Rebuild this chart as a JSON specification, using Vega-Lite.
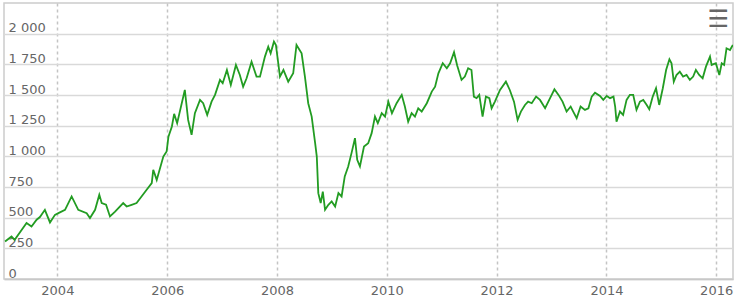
{
  "$schema": "https://vega.github.io/schema/vega-lite/v6.json",
  "width": 729,
  "height": 276,
  "autosize": {"type": "none"},
  "padding": {"left": 4, "top": 3, "right": 15, "bottom": 21},
  "background": "white",
  "title": {"text": "☰", "anchor": "end", "frame": "group", "orient": "top", "offset": -29, "dx": -4, "fontSize": 24, "font": "DejaVu Sans", "fontWeight": "normal", "color": "#666666"},
  "config": {
    "view": {"stroke": "#cccccc", "strokeWidth": 1.5},
    "axis": {"labelFont": "DejaVu Sans", "labelFontSize": 13, "labelColor": "#666666", "titleFontSize": 0}
  },
  "data": {"values": [
    {"date": "2003-01-18", "value": 306}, {"date": "2003-03-02", "value": 347}, {"date": "2003-03-23", "value": 320},
    {"date": "2003-06-10", "value": 456}, {"date": "2003-07-13", "value": 428}, {"date": "2003-08-16", "value": 483},
    {"date": "2003-09-07", "value": 505}, {"date": "2003-10-10", "value": 564}, {"date": "2003-11-13", "value": 461},
    {"date": "2003-12-16", "value": 523}, {"date": "2004-01-08", "value": 537}, {"date": "2004-02-21", "value": 564},
    {"date": "2004-04-05", "value": 673}, {"date": "2004-05-19", "value": 564}, {"date": "2004-07-14", "value": 537},
    {"date": "2004-08-05", "value": 497}, {"date": "2004-09-08", "value": 564}, {"date": "2004-10-06", "value": 686},
    {"date": "2004-10-22", "value": 619}, {"date": "2004-11-20", "value": 605}, {"date": "2004-12-16", "value": 510},
    {"date": "2005-01-19", "value": 550}, {"date": "2005-02-10", "value": 578}, {"date": "2005-03-14", "value": 619},
    {"date": "2005-04-06", "value": 591}, {"date": "2005-05-09", "value": 605}, {"date": "2005-06-11", "value": 619},
    {"date": "2005-07-14", "value": 673}, {"date": "2005-08-17", "value": 727}, {"date": "2005-09-20", "value": 782},
    {"date": "2005-09-30", "value": 890}, {"date": "2005-10-23", "value": 808}, {"date": "2005-12-06", "value": 998},
    {"date": "2005-12-28", "value": 1039}, {"date": "2006-01-09", "value": 1161}, {"date": "2006-02-01", "value": 1243},
    {"date": "2006-02-16", "value": 1346}, {"date": "2006-03-08", "value": 1270}, {"date": "2006-04-28", "value": 1541},
    {"date": "2006-05-20", "value": 1297}, {"date": "2006-06-12", "value": 1175}, {"date": "2006-07-04", "value": 1352},
    {"date": "2006-08-07", "value": 1460}, {"date": "2006-08-28", "value": 1433}, {"date": "2006-09-24", "value": 1338},
    {"date": "2006-10-23", "value": 1446}, {"date": "2006-11-15", "value": 1501}, {"date": "2006-12-18", "value": 1623},
    {"date": "2007-01-05", "value": 1596}, {"date": "2007-02-02", "value": 1704}, {"date": "2007-02-28", "value": 1582},
    {"date": "2007-04-03", "value": 1745}, {"date": "2007-04-29", "value": 1663}, {"date": "2007-05-21", "value": 1568},
    {"date": "2007-06-13", "value": 1636}, {"date": "2007-07-16", "value": 1772}, {"date": "2007-08-18", "value": 1650},
    {"date": "2007-09-10", "value": 1650}, {"date": "2007-10-13", "value": 1813}, {"date": "2007-11-04", "value": 1894},
    {"date": "2007-11-20", "value": 1840}, {"date": "2007-12-12", "value": 1935}, {"date": "2007-12-25", "value": 1908},
    {"date": "2008-01-21", "value": 1650}, {"date": "2008-02-13", "value": 1704}, {"date": "2008-03-16", "value": 1609},
    {"date": "2008-04-18", "value": 1677}, {"date": "2008-05-10", "value": 1908}, {"date": "2008-06-13", "value": 1840},
    {"date": "2008-07-05", "value": 1650}, {"date": "2008-07-27", "value": 1433}, {"date": "2008-08-19", "value": 1324},
    {"date": "2008-09-11", "value": 1107}, {"date": "2008-09-22", "value": 998}, {"date": "2008-10-02", "value": 700},
    {"date": "2008-10-18", "value": 619}, {"date": "2008-11-01", "value": 713}, {"date": "2008-11-16", "value": 564},
    {"date": "2008-12-08", "value": 605}, {"date": "2008-12-30", "value": 632}, {"date": "2009-01-22", "value": 591},
    {"date": "2009-02-13", "value": 700}, {"date": "2009-03-06", "value": 673}, {"date": "2009-03-27", "value": 836},
    {"date": "2009-04-19", "value": 917}, {"date": "2009-05-11", "value": 1026}, {"date": "2009-06-03", "value": 1148},
    {"date": "2009-06-18", "value": 971}, {"date": "2009-07-06", "value": 917}, {"date": "2009-08-02", "value": 1080},
    {"date": "2009-08-30", "value": 1107}, {"date": "2009-09-22", "value": 1189}, {"date": "2009-10-14", "value": 1324},
    {"date": "2009-11-02", "value": 1270}, {"date": "2009-11-28", "value": 1352}, {"date": "2009-12-20", "value": 1324},
    {"date": "2010-01-11", "value": 1446}, {"date": "2010-02-04", "value": 1352}, {"date": "2010-03-07", "value": 1433},
    {"date": "2010-04-10", "value": 1501}, {"date": "2010-05-01", "value": 1406}, {"date": "2010-05-23", "value": 1283},
    {"date": "2010-06-15", "value": 1352}, {"date": "2010-07-07", "value": 1324}, {"date": "2010-07-29", "value": 1392},
    {"date": "2010-08-21", "value": 1365}, {"date": "2010-09-24", "value": 1433}, {"date": "2010-10-27", "value": 1528},
    {"date": "2010-11-18", "value": 1568}, {"date": "2010-12-10", "value": 1677}, {"date": "2011-01-08", "value": 1759},
    {"date": "2011-02-04", "value": 1718}, {"date": "2011-02-26", "value": 1759}, {"date": "2011-03-24", "value": 1849},
    {"date": "2011-04-14", "value": 1740}, {"date": "2011-05-13", "value": 1623}, {"date": "2011-06-04", "value": 1650},
    {"date": "2011-06-26", "value": 1718}, {"date": "2011-07-18", "value": 1704}, {"date": "2011-08-03", "value": 1487},
    {"date": "2011-08-21", "value": 1474}, {"date": "2011-09-08", "value": 1501}, {"date": "2011-09-30", "value": 1324},
    {"date": "2011-10-22", "value": 1487}, {"date": "2011-11-14", "value": 1474}, {"date": "2011-11-29", "value": 1392},
    {"date": "2011-12-21", "value": 1446}, {"date": "2012-01-24", "value": 1541}, {"date": "2012-03-03", "value": 1609},
    {"date": "2012-03-29", "value": 1541}, {"date": "2012-04-26", "value": 1446}, {"date": "2012-05-20", "value": 1297},
    {"date": "2012-06-11", "value": 1365}, {"date": "2012-07-08", "value": 1419}, {"date": "2012-07-29", "value": 1446},
    {"date": "2012-08-22", "value": 1433}, {"date": "2012-09-20", "value": 1487}, {"date": "2012-10-16", "value": 1460},
    {"date": "2012-11-19", "value": 1392}, {"date": "2012-12-22", "value": 1474}, {"date": "2013-01-20", "value": 1547},
    {"date": "2013-02-16", "value": 1501}, {"date": "2013-03-15", "value": 1446}, {"date": "2013-04-11", "value": 1365},
    {"date": "2013-05-08", "value": 1406}, {"date": "2013-05-25", "value": 1365}, {"date": "2013-06-17", "value": 1311},
    {"date": "2013-07-13", "value": 1406}, {"date": "2013-08-11", "value": 1379}, {"date": "2013-09-03", "value": 1392},
    {"date": "2013-09-25", "value": 1487}, {"date": "2013-10-17", "value": 1519}, {"date": "2013-11-19", "value": 1492},
    {"date": "2013-12-11", "value": 1460}, {"date": "2014-01-03", "value": 1492}, {"date": "2014-01-25", "value": 1474},
    {"date": "2014-02-17", "value": 1487}, {"date": "2014-02-28", "value": 1406}, {"date": "2014-03-09", "value": 1283},
    {"date": "2014-04-01", "value": 1365}, {"date": "2014-04-22", "value": 1338}, {"date": "2014-05-15", "value": 1460},
    {"date": "2014-06-06", "value": 1501}, {"date": "2014-06-28", "value": 1501}, {"date": "2014-07-20", "value": 1379},
    {"date": "2014-08-12", "value": 1446}, {"date": "2014-09-03", "value": 1460}, {"date": "2014-09-26", "value": 1419},
    {"date": "2014-10-13", "value": 1384}, {"date": "2014-11-05", "value": 1487}, {"date": "2014-11-27", "value": 1555},
    {"date": "2014-12-18", "value": 1419}, {"date": "2015-01-11", "value": 1555}, {"date": "2015-02-02", "value": 1704},
    {"date": "2015-02-24", "value": 1791}, {"date": "2015-03-10", "value": 1759}, {"date": "2015-03-25", "value": 1609},
    {"date": "2015-04-12", "value": 1663}, {"date": "2015-05-04", "value": 1690}, {"date": "2015-05-26", "value": 1650},
    {"date": "2015-06-18", "value": 1663}, {"date": "2015-07-10", "value": 1623}, {"date": "2015-08-01", "value": 1650},
    {"date": "2015-08-19", "value": 1704}, {"date": "2015-09-10", "value": 1663}, {"date": "2015-10-03", "value": 1636},
    {"date": "2015-10-25", "value": 1731}, {"date": "2015-11-21", "value": 1813}, {"date": "2015-12-02", "value": 1745},
    {"date": "2015-12-30", "value": 1759}, {"date": "2016-01-22", "value": 1663}, {"date": "2016-02-07", "value": 1759},
    {"date": "2016-02-23", "value": 1745}, {"date": "2016-03-10", "value": 1881}, {"date": "2016-04-02", "value": 1867},
    {"date": "2016-04-21", "value": 1908}
  ]},
  "mark": {"type": "line", "color": "#229c22", "strokeWidth": 1.8, "clip": true},
  "encoding": {
    "x": {
      "field": "date", "type": "temporal",
      "scale": {"type": "utc", "domain": [{"year": 2003, "month": 1, "date": 11, "utc": true}, {"year": 2016, "month": 4, "date": 22, "utc": true}]},
      "axis": {
        "title": null, "format": "%Y", "ticks": false, "labelPadding": 5,
        "values": [
          {"year": 2004, "month": 1, "date": 1, "utc": true}, {"year": 2006, "month": 1, "date": 1, "utc": true},
          {"year": 2008, "month": 1, "date": 1, "utc": true}, {"year": 2010, "month": 1, "date": 1, "utc": true},
          {"year": 2012, "month": 1, "date": 1, "utc": true}, {"year": 2014, "month": 1, "date": 1, "utc": true},
          {"year": 2016, "month": 1, "date": 1, "utc": true}
        ],
        "grid": true, "gridColor": "#c4c4c4", "gridDash": [3, 3], "gridWidth": 1.5,
        "domainColor": "#c8c8c8", "domainWidth": 1.5, "labelFlush": false
      }
    },
    "y": {
      "field": "value", "type": "quantitative",
      "scale": {"domain": [0, 2250], "nice": false},
      "axis": {
        "title": null, "values": [0, 250, 500, 750, 1000, 1250, 1500, 1750, 2000],
        "labelExpr": "replace(format(datum.value, ','), ',', ' ')",
        "ticks": false, "tickSize": 0, "domain": false,
        "labelAlign": "left", "labelBaseline": "alphabetic", "labelPadding": -4, "labelOffset": -2,
        "grid": true, "gridColor": "#d9d9d9", "gridWidth": 1.5, "labelFlush": false
      }
    }
  }
}
